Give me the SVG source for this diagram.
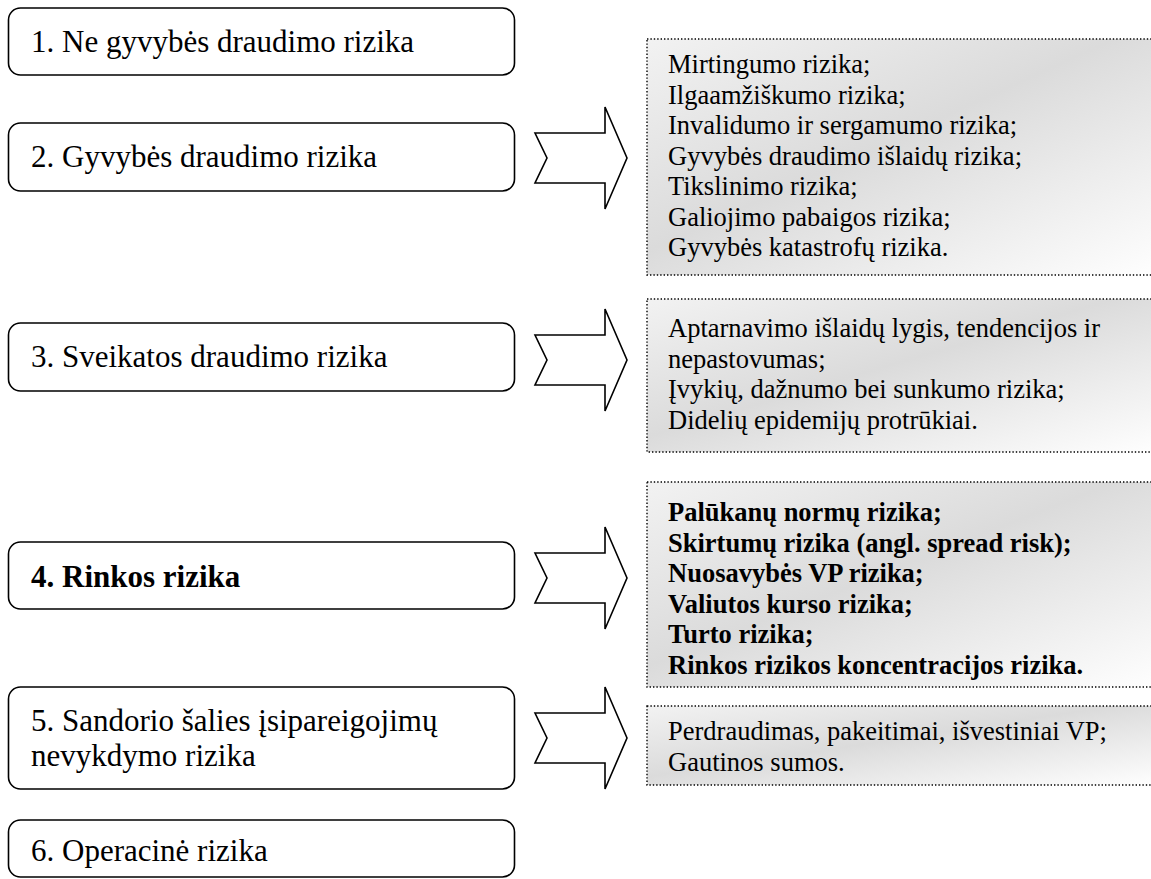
<svg xmlns="http://www.w3.org/2000/svg" width="1151" height="879" viewBox="0 0 1151 879">
<style>
.lb{fill:#fff;stroke:#000;stroke-width:1.6}
.lt{font-size:31px;fill:#000}
.rb{fill:url(#g);stroke:#000;stroke-width:1.4;stroke-dasharray:1.4 2}
.rt{font-size:26.5px;fill:#000}
.b{font-weight:bold}
.ar{fill:#fff;stroke:#000;stroke-width:1.6;stroke-linejoin:miter}
</style>
<defs>
<linearGradient id="g" x1="0" y1="0" x2="1" y2="1">
<stop offset="0" stop-color="#f2f2f2"/>
<stop offset="0.45" stop-color="#dbdbdb"/>
<stop offset="1" stop-color="#ffffff"/>
</linearGradient>
</defs>
<g font-family="Liberation Serif, Times New Roman, serif">
<g id="n1"><rect class="lb" x="8.5" y="8" width="506" height="67" rx="12"/><text class="lt" x="31" y="52">1. Ne gyvybės draudimo rizika</text></g>
<g id="n2"><rect class="lb" x="8.5" y="123" width="506" height="68" rx="12"/><text class="lt" x="31" y="167">2. Gyvybės draudimo rizika</text></g>
<g id="n3"><rect class="lb" x="8.5" y="323" width="506" height="68" rx="12"/><text class="lt" x="31" y="367">3. Sveikatos draudimo rizika</text></g>
<g id="n4"><rect class="lb" x="8.5" y="542" width="506" height="67" rx="12"/><text class="lt b" x="31" y="587">4. Rinkos rizika</text></g>
<g id="n5"><rect class="lb" x="8.5" y="687" width="506" height="102" rx="12"/><text class="lt" x="31" y="731">5. Sandorio šalies įsipareigojimų</text><text class="lt" x="31" y="766">nevykdymo rizika</text></g>
<g id="n6"><rect class="lb" x="8.5" y="820" width="506" height="57" rx="12"/><text class="lt" x="31" y="861">6. Operacinė rizika</text></g>
<g id="r2"><rect class="rb" x="647" y="39" width="520" height="236"/>
<text class="rt" x="668" y="73">Mirtingumo rizika;</text>
<text class="rt" x="668" y="103.5">Ilgaamžiškumo rizika;</text>
<text class="rt" x="668" y="134">Invalidumo ir sergamumo rizika;</text>
<text class="rt" x="668" y="164.5">Gyvybės draudimo išlaidų rizika;</text>
<text class="rt" x="668" y="195">Tikslinimo rizika;</text>
<text class="rt" x="668" y="225.5">Galiojimo pabaigos rizika;</text>
<text class="rt" x="668" y="256">Gyvybės katastrofų rizika.</text>
</g>
<g id="r3"><rect class="rb" x="647" y="299" width="520" height="153"/>
<text class="rt" x="668" y="337">Aptarnavimo išlaidų lygis, tendencijos ir</text>
<text class="rt" x="668" y="367.5">nepastovumas;</text>
<text class="rt" x="668" y="398">Įvykių, dažnumo bei sunkumo rizika;</text>
<text class="rt" x="668" y="428.5">Didelių epidemijų protrūkiai.</text>
</g>
<g id="r4"><rect class="rb" x="647" y="482" width="520" height="205"/>
<text class="rt b" x="668" y="521">Palūkanų normų rizika;</text>
<text class="rt b" x="668" y="551.5">Skirtumų rizika (angl. spread risk);</text>
<text class="rt b" x="668" y="582">Nuosavybės VP rizika;</text>
<text class="rt b" x="668" y="612.5">Valiutos kurso rizika;</text>
<text class="rt b" x="668" y="643">Turto rizika;</text>
<text class="rt b" x="668" y="673.5">Rinkos rizikos koncentracijos rizika.</text>
</g>
<g id="r5"><rect class="rb" x="647" y="706" width="520" height="79"/>
<text class="rt" x="668" y="740">Perdraudimas, pakeitimai, išvestiniai VP;</text>
<text class="rt" x="668" y="771">Gautinos sumos.</text>
</g>
</g>
<g id="connectors">
<path class="ar" d="M535,133 L605,133 L605,107 L627,158 L605,209 L605,183 L535,183 L547,158 Z"/>
<path class="ar" d="M535,335 L605,335 L605,309 L627,360 L605,411 L605,385 L535,385 L547,360 Z"/>
<path class="ar" d="M535,553 L605,553 L605,527 L627,578 L605,629 L605,603 L535,603 L547,578 Z"/>
<path class="ar" d="M535,713 L605,713 L605,687 L627,738 L605,789 L605,763 L535,763 L547,738 Z"/>
</g>
</svg>
